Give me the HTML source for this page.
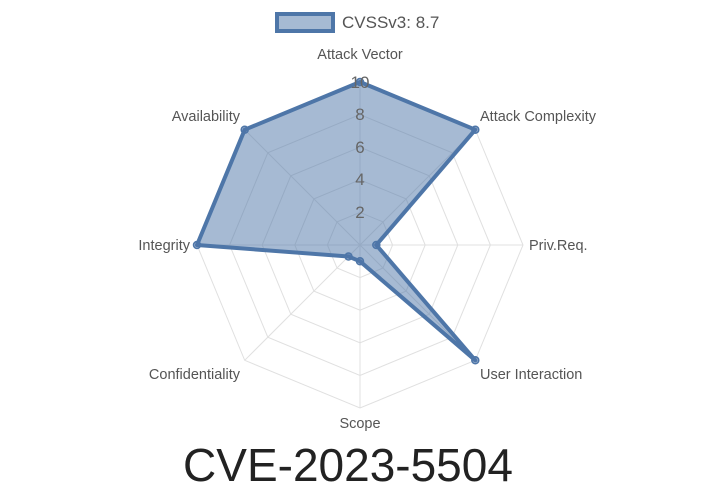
<!DOCTYPE html>
<html><head><style>
html,body{margin:0;padding:0;background:#fff;}
svg{display:block;font-family:"Liberation Sans",sans-serif;}
</style></head><body>
<svg width="720" height="504" viewBox="0 0 720 504">
<g stroke="#e0e0e0" stroke-width="1" fill="none">
<polygon points="360,212.4 383.0,221.9 392.6,245 383.0,268.0 360,277.6 337.0,268.0 327.4,245 337.0,221.9"/>
<polygon points="360,179.8 406.1,198.9 425.2,245 406.1,291.1 360,310.2 313.9,291.1 294.8,245 313.9,198.9"/>
<polygon points="360,147.2 429.2,175.8 457.8,245 429.2,314.2 360,342.8 290.8,314.2 262.2,245 290.8,175.8"/>
<polygon points="360,114.6 452.2,152.8 490.4,245 452.2,337.2 360,375.4 267.8,337.2 229.6,245 267.8,152.8"/>
<polygon points="360,82 475.3,129.7 523,245 475.3,360.3 360,408 244.7,360.3 197,245 244.7,129.7"/>
<line x1="360" y1="245" x2="360" y2="82"/><line x1="360" y1="245" x2="475.3" y2="129.7"/>
<line x1="360" y1="245" x2="523" y2="245"/><line x1="360" y1="245" x2="475.3" y2="360.3"/>
<line x1="360" y1="245" x2="360" y2="408"/><line x1="360" y1="245" x2="244.7" y2="360.3"/>
<line x1="360" y1="245" x2="197" y2="245"/><line x1="360" y1="245" x2="244.7" y2="129.7"/>
</g>
<polygon points="360,82 475.3,129.7 376.3,245 475.3,360.3 360,261.3 348.5,256.5 197,245 244.7,129.7" fill="rgba(78,117,168,0.5)" stroke="#4e76a8" stroke-width="4" stroke-linejoin="round"/>
<g fill="rgba(78,117,168,0.6)" stroke="#4e76a8" stroke-width="1.5">
<circle cx="360" cy="82" r="3.5"/><circle cx="475.3" cy="129.7" r="3.5"/><circle cx="376.3" cy="245" r="3.5"/>
<circle cx="475.3" cy="360.3" r="3.5"/><circle cx="360" cy="261.3" r="3.5"/><circle cx="348.5" cy="256.5" r="3.5"/>
<circle cx="197" cy="245" r="3.5"/><circle cx="244.7" cy="129.7" r="3.5"/>
</g>
<g fill="#666" font-size="17" text-anchor="middle">
<text x="360" y="218">2</text><text x="360" y="185">4</text><text x="360" y="153">6</text>
<text x="360" y="120">8</text><text x="360" y="88">10</text>
</g>
<g fill="#555" font-size="14.5">
<text x="360" y="59" text-anchor="middle">Attack Vector</text>
<text x="480" y="121">Attack Complexity</text>
<text x="529" y="250">Priv.Req.</text>
<text x="480" y="379">User Interaction</text>
<text x="360" y="428" text-anchor="middle">Scope</text>
<text x="240" y="379" text-anchor="end">Confidentiality</text>
<text x="190" y="250" text-anchor="end">Integrity</text>
<text x="240" y="121" text-anchor="end">Availability</text>
</g>
<rect x="277" y="14" width="56" height="17" fill="rgba(78,117,168,0.5)" stroke="#4e76a8" stroke-width="4"/>
<text x="342" y="28" font-size="17" fill="#555">CVSSv3: 8.7</text>
<text x="348" y="481" font-size="46" fill="#222" text-anchor="middle">CVE-2023-5504</text>
</svg>
</body></html>
